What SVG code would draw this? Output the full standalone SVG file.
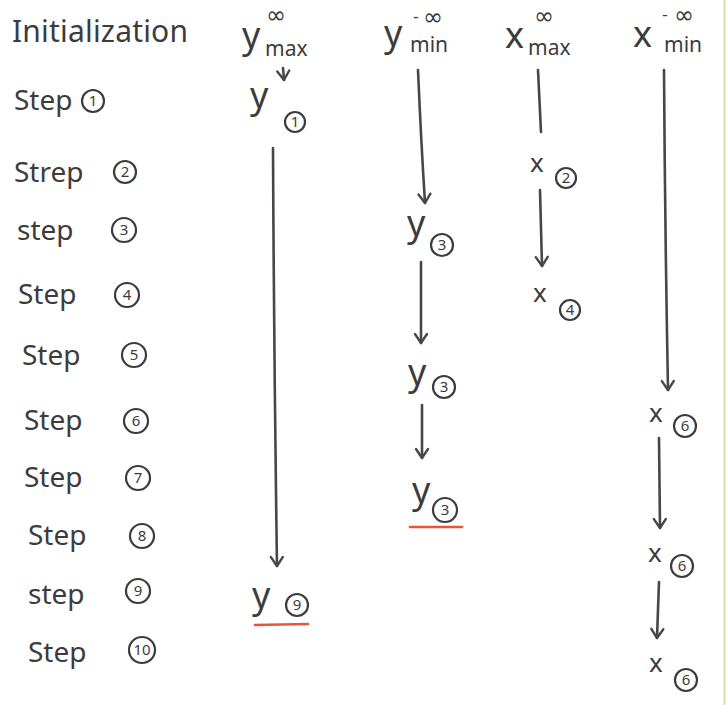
<svg xmlns="http://www.w3.org/2000/svg" width="726" height="705" viewBox="0 0 726 705">
  <defs>
    <style>
      .t { font-family: "Noto Sans", "DejaVu Sans", sans-serif; fill: #3c3c3c; font-size: 28px; }
      .sub { font-size: 21px; }
      .sup { font-family: "DejaVu Sans", sans-serif; fill: #3c3c3c; font-size: 24px; }
      .dash { font-family: "DejaVu Sans", sans-serif; fill: #3c3c3c; font-size: 16px; }
      .var { font-family: "Noto Sans", "DejaVu Sans", sans-serif; fill: #3c3c3c; font-size: 36px; }
      .xv { font-family: "Noto Sans", "DejaVu Sans", sans-serif; fill: #3c3c3c; font-size: 26px; }
      .num { font-family: "Noto Sans", "DejaVu Sans", sans-serif; fill: #3c3c3c; font-size: 15px; text-anchor: middle; }
      .ring { fill: none; stroke: #3c3c3c; stroke-width: 2.2; }
      .ln { fill: none; stroke: #474747; stroke-width: 2.6; stroke-linecap: round; }
      .red { fill: none; stroke: #e8553a; stroke-width: 2.6; stroke-linecap: round; }
    </style>
    <marker id="head" viewBox="-12 -8 14 16" markerWidth="14" markerHeight="16" refX="0" refY="0" orient="auto" markerUnits="userSpaceOnUse">
      <path d="M-9,-6 L0,0 L-9,6" fill="none" stroke="#474747" stroke-width="2.4" stroke-linecap="round" stroke-linejoin="round"/>
    </marker>
  </defs>

  <rect width="726" height="705" fill="#ffffff"/>
  <line x1="724.5" y1="0" x2="724.5" y2="705" stroke="#e6dca0" stroke-width="2"/>

  <!-- column headers -->
  <g id="init"><text class="t" x="12" y="42" style="font-size:30px" textLength="176">Initialization</text></g>
  <g id="h-ymax">
    <text class="var" x="242" y="48">y</text>
    <text class="sup" x="266" y="23">∞</text>
    <text class="t sub" x="265" y="56">max</text>
  </g>
  <g id="h-ymin">
    <text class="var" x="384" y="46">y</text>
    <text class="dash" x="413" y="22">-</text>
    <text class="sup" x="423" y="25">∞</text>
    <text class="t sub" x="410" y="52">min</text>
  </g>
  <g id="h-xmax">
    <text class="var" x="505" y="48">x</text>
    <text class="sup" x="534" y="24">∞</text>
    <text class="t sub" x="528" y="55">max</text>
  </g>
  <g id="h-xmin">
    <text class="var" x="633" y="47">x</text>
    <text class="dash" x="662" y="20">-</text>
    <text class="sup" x="674" y="23">∞</text>
    <text class="t sub" x="664" y="52">min</text>
  </g>

  <!-- step labels -->
  <g id="step1"><text class="t" x="14" y="110">Step</text><circle class="ring" cx="93" cy="101" r="11"/><text class="num" x="93" y="106">1</text></g>
  <g id="step2"><text class="t" x="14" y="182">Strep</text><circle class="ring" cx="125" cy="172" r="11"/><text class="num" x="125" y="177">2</text></g>
  <g id="step3"><text class="t" x="17" y="240">step</text><circle class="ring" cx="124" cy="230" r="12"/><text class="num" x="124" y="235">3</text></g>
  <g id="step4"><text class="t" x="18" y="304">Step</text><circle class="ring" cx="127" cy="295" r="12"/><text class="num" x="127" y="300">4</text></g>
  <g id="step5"><text class="t" x="22" y="365">Step</text><circle class="ring" cx="134" cy="355" r="12"/><text class="num" x="134" y="360">5</text></g>
  <g id="step6"><text class="t" x="24" y="430">Step</text><circle class="ring" cx="136" cy="421" r="12"/><text class="num" x="136" y="426">6</text></g>
  <g id="step7"><text class="t" x="24" y="487">Step</text><circle class="ring" cx="138" cy="478" r="12"/><text class="num" x="138" y="483">7</text></g>
  <g id="step8"><text class="t" x="28" y="545">Step</text><circle class="ring" cx="142" cy="536" r="12"/><text class="num" x="142" y="541">8</text></g>
  <g id="step9"><text class="t" x="28" y="604">step</text><circle class="ring" cx="138" cy="591" r="12"/><text class="num" x="138" y="596">9</text></g>
  <g id="step10"><text class="t" x="28" y="662">Step</text><circle class="ring" cx="142" cy="650" r="13"/><text class="num" x="142" y="655">10</text></g>

  <!-- value nodes -->
  <g id="y1"><text class="var" x="250" y="108">y</text><circle class="ring" cx="295" cy="122" r="10"/><text class="num" x="295" y="127">1</text></g>
  <g id="y9"><text class="var" x="252" y="608">y</text><circle class="ring" cx="297" cy="605" r="11"/><text class="num" x="297" y="610">9</text></g>
  <g id="y3a"><text class="var" x="407" y="236">y</text><circle class="ring" cx="442" cy="245" r="11"/><text class="num" x="442" y="250">3</text></g>
  <g id="y3b"><text class="var" x="408" y="385">y</text><circle class="ring" cx="444" cy="387" r="11"/><text class="num" x="444" y="392">3</text></g>
  <g id="y3c"><text class="var" x="412" y="503">y</text><circle class="ring" cx="445" cy="510" r="12"/><text class="num" x="445" y="515">3</text></g>
  <g id="x2"><text class="xv" x="530" y="172">x</text><circle class="ring" cx="566" cy="178" r="10"/><text class="num" x="566" y="183">2</text></g>
  <g id="x4"><text class="xv" x="533" y="302">x</text><circle class="ring" cx="570" cy="310" r="10"/><text class="num" x="570" y="315">4</text></g>
  <g id="x6a"><text class="xv" x="649" y="422">x</text><circle class="ring" cx="685" cy="426" r="11"/><text class="num" x="685" y="431">6</text></g>
  <g id="x6b"><text class="xv" x="648" y="562">x</text><circle class="ring" cx="682" cy="566" r="11"/><text class="num" x="682" y="571">6</text></g>
  <g id="x6c"><text class="xv" x="649" y="672">x</text><circle class="ring" cx="686" cy="680" r="11"/><text class="num" x="686" y="685">6</text></g>

  <!-- connectors -->
  <g id="connectors">
    <line class="ln" x1="283" y1="68" x2="284" y2="80" marker-end="url(#head)"/>
    <path class="ln" d="M273,148 Q274,360 277,566" marker-end="url(#head)"/>

    <path class="ln" d="M418,70 Q421,140 425,203" marker-end="url(#head)"/>
    <line class="ln" x1="421" y1="262" x2="421" y2="343" marker-end="url(#head)"/>
    <line class="ln" x1="422" y1="405" x2="422" y2="458" marker-end="url(#head)"/>

    <line class="ln" x1="538" y1="70" x2="541" y2="132"/>
    <line class="ln" x1="540" y1="190" x2="542" y2="266" marker-end="url(#head)"/>

    <path class="ln" d="M664,70 Q665,230 668,390" marker-end="url(#head)"/>
    <line class="ln" x1="659" y1="438" x2="660" y2="528" marker-end="url(#head)"/>
    <line class="ln" x1="659" y1="582" x2="657" y2="638" marker-end="url(#head)"/>

    <line class="red" x1="255" y1="625" x2="308" y2="624"/>
    <line class="red" x1="410" y1="527" x2="462" y2="527"/>
  </g>
</svg>
